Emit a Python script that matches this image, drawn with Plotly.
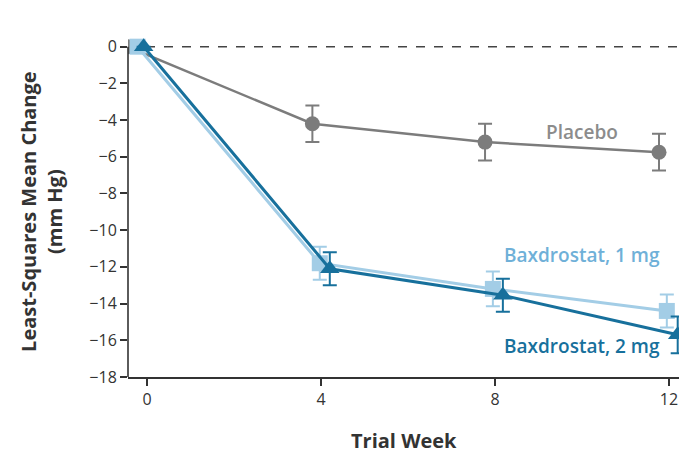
import plotly.graph_objects as go

# Trial weeks and least-squares mean change in systolic BP (mm Hg)
weeks = [0, 4, 8, 12]

placebo_mean = [0.0, -4.2, -5.2, -5.75]
placebo_err = [0.0, 1.0, 1.0, 1.0]
placebo_shift = [-0.45, -0.2, -0.23, -0.23]

bax1_mean = [0.0, -11.8, -13.2, -14.4]
bax1_err = [0.0, 0.9, 0.95, 0.9]
bax1_shift = [-0.22, -0.03, -0.05, -0.05]

bax2_mean = [0.0, -12.1, -13.55, -15.7]
bax2_err = [0.0, 0.9, 0.9, 1.0]
bax2_shift = [-0.08, 0.2, 0.18, 0.2]

y_ticks = list(range(0, -19, -2))
x_ticks = [0, 4, 8, 12]

GRAY = "#7c7c7c"
LIGHT = "#a3cde6"
DARK = "#17709c"
FONT = "Open Sans"


def xs(shift):
    return [w + s for w, s in zip(weeks, shift)]


fig = go.Figure()

fig.add_trace(go.Scatter(
    x=xs(placebo_shift), y=placebo_mean, mode="lines+markers",
    line=dict(color=GRAY, width=2.5),
    marker=dict(symbol="circle", size=15, color=GRAY),
    error_y=dict(type="data", array=placebo_err, color=GRAY, thickness=2, width=7),
    showlegend=False,
))
fig.add_trace(go.Scatter(
    x=xs(bax1_shift), y=bax1_mean, mode="lines+markers",
    line=dict(color=LIGHT, width=3),
    marker=dict(symbol="square", size=16, color=LIGHT),
    error_y=dict(type="data", array=bax1_err, color=LIGHT, thickness=2, width=7),
    showlegend=False,
))
fig.add_trace(go.Scatter(
    x=xs(bax2_shift), y=bax2_mean, mode="lines+markers",
    line=dict(color=DARK, width=3),
    marker=dict(symbol="triangle-up", size=17, color=DARK),
    error_y=dict(type="data", array=bax2_err, color=DARK, thickness=2, width=7),
    showlegend=False,
))

# Reference line at zero change
fig.add_shape(type="line", xref="paper", x0=0, x1=1, yref="y", y0=0, y1=0,
              line=dict(color="#444444", width=1.6, dash="dash"), layer="below")
# Left axis line, drawn from -18 to 0 only
fig.add_shape(type="line", xref="paper", x0=0, x1=0, yref="y", y0=-18, y1=0,
              line=dict(color="#333333", width=1.6))

label_font = dict(family=FONT, size=19, weight=600)
fig.add_annotation(x=10.0, y=-4.64, text="Placebo", showarrow=False,
                   font=dict(**label_font, color="#8c8c8c"))
fig.add_annotation(x=10.0, y=-11.35, text="Baxdrostat, 1 mg", showarrow=False,
                   font=dict(**label_font, color="#6fb0d8"))
fig.add_annotation(x=10.0, y=-16.3, text="Baxdrostat, 2 mg", showarrow=False,
                   font=dict(**label_font, color=DARK))

fig.add_annotation(xref="paper", x=-0.156, xanchor="center", y=-9.0, yref="y",
                   text="Least-Squares Mean Change<br>(mm Hg)", textangle=-90,
                   showarrow=False, align="center",
                   font=dict(family=FONT, size=20, weight="bold", color="#333333"))
fig.add_annotation(xref="paper", x=0.5, yref="paper", y=-0.185, yanchor="middle",
                   text="Trial Week", showarrow=False,
                   font=dict(family=FONT, size=20, weight="bold", color="#333333"))

fig.update_xaxes(range=[-0.44, 12.23], tickvals=x_ticks, ticks="outside",
                 ticklen=7, tickwidth=1.6, tickcolor="#333333",
                 showline=True, linecolor="#333333", linewidth=1.6,
                 showgrid=False, zeroline=False,
                 tickfont=dict(family=FONT, size=16, color="#333333"))
fig.update_yaxes(range=[-18, 0.8], tickvals=y_ticks, ticks="outside",
                 ticklen=7, tickwidth=1.6, tickcolor="#333333",
                 showline=False, showgrid=False, zeroline=False,
                 tickfont=dict(family=FONT, size=16, color="#333333"))

fig.update_layout(
    width=679, height=454,
    margin=dict(l=128, r=0, t=32, b=77),
    plot_bgcolor="white", paper_bgcolor="white",
)

fig.write_html("out.html")
